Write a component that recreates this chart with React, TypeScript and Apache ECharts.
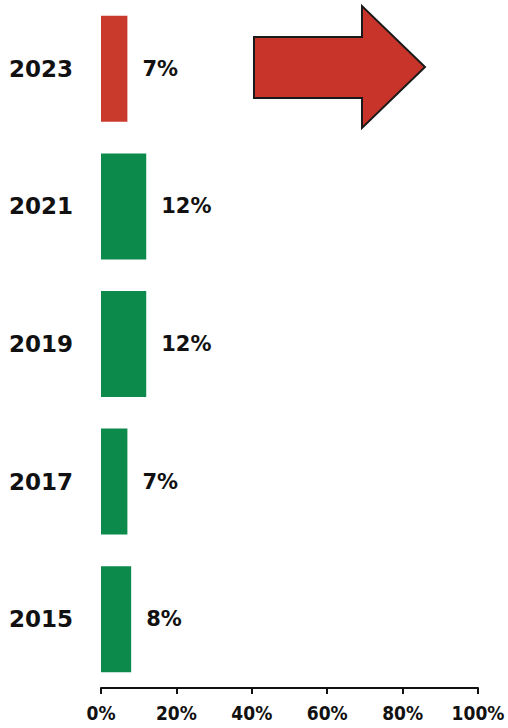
import React, { useEffect, useRef } from "react";
import * as echarts from "echarts";

const years = ["2015", "2017", "2019", "2021", "2023"];
const shares = [8, 7, 12, 12, 7];
const barColors = ["#0b8a4b", "#0b8a4b", "#0b8a4b", "#0b8a4b", "#c93a2d"];
const xTicks = [0, 20, 40, 60, 80, 100];

export default function App() {
  const ref = useRef<HTMLDivElement>(null);
  useEffect(() => {
    if (!ref.current) return;
    const chart = echarts.init(ref.current, null, { renderer: "svg" });
    chart.setOption({
      animation: false,
      backgroundColor: "#ffffff",
      grid: { left: 101, right: 30, top: -3, height: 691 },
      xAxis: {
        type: "value",
        min: xTicks[0],
        max: xTicks[xTicks.length - 1],
        interval: 20,
        splitLine: { show: false },
        axisLine: { show: true, lineStyle: { color: "#111", width: 2 } },
        axisTick: { show: true, length: 6, lineStyle: { color: "#111", width: 2 } },
        axisLabel: {
          formatter: "{value}%",
          color: "#111",
          fontFamily: "'DejaVu Sans Condensed', 'DejaVu Sans'",
          fontWeight: "bold",
          fontSize: 19,
          margin: 15,
        },
      },
      yAxis: {
        type: "category",
        data: years,
        axisLine: { show: false },
        axisTick: { show: false },
        axisLabel: {
          color: "#111",
          fontFamily: "'DejaVu Sans'",
          fontWeight: "bold",
          fontSize: 23,
          margin: 28,
        },
      },
      series: [
        {
          type: "bar",
          barWidth: 106,
          data: shares.map((v, i) => ({ value: v, itemStyle: { color: barColors[i] } })),
          label: {
            show: true,
            position: "right",
            distance: 15,
            formatter: "{c}%",
            color: "#111",
            fontFamily: "'DejaVu Sans'",
            fontWeight: "bold",
            fontSize: 21,
          },
        },
      ],
      graphic: [
        {
          type: "polygon",
          shape: {
            points: [
              [254, 37],
              [362, 37],
              [362, 6],
              [425, 67],
              [362, 128],
              [362, 98],
              [254, 98],
            ],
          },
          style: { fill: "#c8342a", stroke: "#1a1a1a", lineWidth: 2 },
        },
      ],
    });
    return () => chart.dispose();
  }, []);
  return (
    <div
      ref={ref}
      style={{ position: "fixed", left: 0, top: 0, width: 508, height: 728 }}
    />
  );
}
